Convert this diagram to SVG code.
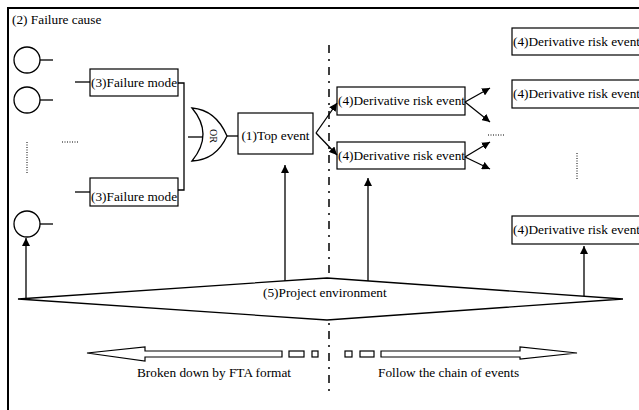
<svg xmlns="http://www.w3.org/2000/svg" width="639" height="410" viewBox="0 0 639 410">
  <defs>
    <marker id="tri" viewBox="0 0 10 10" refX="10" refY="5" markerWidth="8" markerHeight="8" markerUnits="userSpaceOnUse" orient="auto">
      <path d="M0,0 L10,5 L0,10 Z" fill="#000"/>
    </marker>
    <style>
      .box { fill: #fff; stroke: #000; stroke-width: 1.2; }
      .ln { fill: none; stroke: #000; stroke-width: 1.3; }
      .arr { fill: none; stroke: #000; stroke-width: 1.3; marker-end: url(#tri); }
      .dots { fill: none; stroke: #000; stroke-width: 1; stroke-dasharray: 1 1.5; }
      .frame { fill: none; stroke: #000; stroke-width: 2; }
      .hollow { fill: #fff; stroke: #000; stroke-width: 1.2; }
      .diamond { fill: #fff; stroke: #000; stroke-width: 1.3; }
    </style>
  </defs>

  <g font-family="'Liberation Serif', 'Times New Roman', Times, serif" font-size="13.3" fill="#000">

  <!-- outer frame -->
  <path class="frame" d="M8,410 V8 H640"/>

  <!-- divider between FTA side and event-chain side -->
  <line x1="329" y1="45" x2="329" y2="396" stroke="#000" stroke-width="1.5" stroke-dasharray="8 6 2 6"/>

  <text x="12" y="24">(2) Failure cause</text>

  <!-- failure causes -->
  <g id="cause1"><circle class="ln" cx="27" cy="60" r="13"/><line class="ln" x1="40" y1="60" x2="53" y2="60"/></g>
  <g id="cause2"><circle class="ln" cx="27" cy="100" r="13"/><line class="ln" x1="40" y1="100" x2="53" y2="100"/></g>
  <g id="cause3"><circle class="ln" cx="27" cy="224" r="13"/><line class="ln" x1="40" y1="224" x2="53" y2="224"/></g>
  <line class="dots" x1="27" y1="142" x2="27" y2="173"/>
  <line class="dots" x1="62" y1="142" x2="79" y2="142"/>

  <!-- failure modes -->
  <g id="mode1">
    <rect class="box" x="90" y="69" width="88" height="27"/>
    <text x="91" y="87">(3)Failure mode</text>
  </g>
  <g id="mode2">
    <rect class="box" x="90" y="178" width="88" height="28"/>
    <text x="91" y="201">(3)Failure mode</text>
  </g>

  <!-- OR gate -->
  <g id="orgate">
    <path class="ln" d="M192,108 Q216,110 227,136 Q216,160 192,161 Q214,134 192,108 Z"/>
    <text transform="translate(210,136) rotate(90)" text-anchor="middle" font-size="10">OR</text>
  </g>

  <!-- top event -->
  <g id="top">
    <rect class="box" x="238" y="113" width="75" height="41"/>
    <text x="275.5" y="140" text-anchor="middle">(1)Top event</text>
  </g>

  <!-- derivative risk events -->
  <g id="deriv1">
    <rect class="box" x="337" y="87" width="128" height="28"/>
    <text x="338" y="105">(4)Derivative risk event</text>
  </g>
  <g id="deriv2">
    <rect class="box" x="337" y="142" width="128" height="27"/>
    <text x="338" y="160">(4)Derivative risk event</text>
  </g>
  <g id="deriv3">
    <rect class="box" x="512" y="28" width="132" height="27"/>
    <text x="513" y="46">(4)Derivative risk event</text>
  </g>
  <g id="deriv4">
    <rect class="box" x="512" y="80" width="132" height="28"/>
    <text x="513" y="98">(4)Derivative risk event</text>
  </g>
  <g id="deriv5">
    <rect class="box" x="512" y="216" width="132" height="28"/>
    <text x="513" y="234">(4)Derivative risk event</text>
  </g>
  <line class="dots" x1="488" y1="135" x2="505" y2="135"/>
  <line class="dots" x1="577" y1="153" x2="577" y2="180"/>

  <!-- project environment -->
  <g id="env">
    <path class="diamond" d="M18,299 L327,278 L623,299 L327,320 Z"/>
    <text x="263" y="297">(5)Project environment</text>
  </g>

  <!-- connectors -->
  <g id="connectors">
    <line class="ln" x1="75" y1="82" x2="90" y2="82"/>
    <line class="ln" x1="75" y1="192" x2="90" y2="192"/>
    <path class="ln" d="M178,83 H184 V190 H178"/>
    <line class="ln" x1="188" y1="137" x2="203" y2="137"/>
    <line class="ln" x1="227" y1="136" x2="238" y2="136"/>
    <line class="arr" x1="316" y1="133" x2="337" y2="103"/>
    <line class="arr" x1="316" y1="133" x2="337" y2="155"/>
    <line class="arr" x1="465" y1="102" x2="490" y2="88"/>
    <line class="arr" x1="465" y1="102" x2="490" y2="122"/>
    <line class="arr" x1="465" y1="157" x2="490" y2="142"/>
    <line class="arr" x1="465" y1="157" x2="490" y2="169"/>
    <line class="arr" x1="26" y1="299" x2="26" y2="238"/>
    <line class="arr" x1="285" y1="281" x2="285" y2="165"/>
    <line class="arr" x1="368" y1="281" x2="368" y2="178"/>
    <line class="arr" x1="584" y1="296" x2="584" y2="246"/>
  </g>

  <!-- direction arrows -->
  <g id="fta-direction">
    <path class="hollow" d="M87,353 L145,347 V351 H282 V357 H145 V361 Z"/>
    <rect class="hollow" x="289" y="351" width="15" height="6"/>
    <rect class="hollow" x="312" y="351" width="6" height="6"/>
    <text x="137" y="377">Broken down by FTA format</text>
  </g>
  <g id="chain-direction">
    <rect class="hollow" x="345" y="351" width="7" height="6"/>
    <rect class="hollow" x="360" y="351" width="14" height="6"/>
    <path class="hollow" d="M381,351 H520 V347 L577,353 L520,359 V357 H381 Z"/>
    <text x="378" y="377">Follow the chain of events</text>
  </g>

  </g>
</svg>
